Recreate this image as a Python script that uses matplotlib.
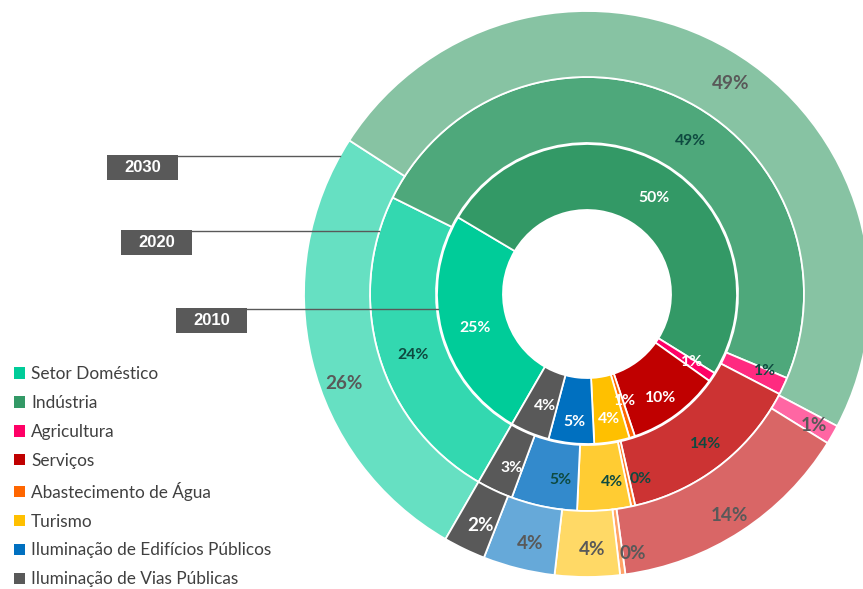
import matplotlib
matplotlib.use('Agg')
import numpy as np
import matplotlib.pyplot as plt
from matplotlib.patches import Rectangle, Patch

categories = ['Setor Doméstico', 'Indústria', 'Agricultura', 'Serviços',
              'Abastecimento de Água', 'Turismo',
              'Iluminação de Edifícios Públicos', 'Iluminação de Vias Públicas']
years = ['2010', '2020', '2030']
share_2010 = [25.2, 50.3, 1.0, 10.0, 0.6, 3.8, 4.9, 4.2]
share_2020 = [24.0, 49.0, 1.3, 13.8, 0.3, 4.0, 4.9, 2.7]
share_2030 = [25.8, 48.6, 1.1, 14.0, 0.3, 3.7, 4.1, 2.4]

colors_2010 = ['#00CC99', '#339966', '#FF0066', '#C00000', '#FF6600', '#FFC000', '#0070C0', '#595959']
colors_2020 = ['#33D8B0', '#4EA87B', '#FF2A80', '#CC3333', '#FF7D26', '#FFCC33', '#338ACC', '#595959']
colors_2030 = ['#66E0C2', '#87C3A3', '#FF66A3', '#D96666', '#FFA366', '#FFD966', '#66A9D9', '#595959']

# label nudges in pixels (dx right, dy down), mimicking the original label placement
nudge_2010 = [(1, 4), (6, 4), (8, 3), (4, 10), (3, -5), (2, 10), (0, 12), (3, 4)]
nudge_2020 = [(2, 8), (27, 14), (11, -1), (6, 4), (14, 5), (10, 5), (10, 6), (3, 7)]
nudge_2030 = [(0, 31), (17, 5), (10, 7), (6, 12), (14, 12), (5, 6), (4, 7), (2, 6)]

W, H = 863, 589
fig = plt.figure(figsize=(W / 100, H / 100), dpi=100)
ax = fig.add_axes([0, 0, 1, 1])

cx, cy = 587, 295
ring_w = 66
rings = [
    (share_2010, colors_2010, 150, ['white'] * 8, 11.3, nudge_2010),
    (share_2020, colors_2020, 217, ['#0E4A40'] * 7 + ['white'], 11.3, nudge_2020),
    (share_2030, colors_2030, 283, ['#595959'] * 7 + ['white'], 13.6, nudge_2030),
]

for vals, cols, r, tcols, fs, nudges in rings:
    wedges, texts, autotexts = ax.pie(
        vals, radius=r, center=(cx, cy), colors=cols, startangle=240,
        counterclock=False, autopct='%.0f%%', pctdistance=(r - ring_w / 2) / r,
        wedgeprops=dict(width=ring_w, edgecolor='white', linewidth=1.3),
        textprops=dict(fontfamily='Lato', fontweight='bold', fontsize=fs))
    for t, c, (dx, dy) in zip(autotexts, tcols, nudges):
        t.set_color(c)
        x, y = t.get_position()
        t.set_position((x + dx, y - dy))

ax.set_xlim(0, W)
ax.set_ylim(0, H)
ax.set_aspect('equal')
ax.axis('off')

# year tags with leader lines
tags = [('2030', 107, 155, 283), ('2020', 121, 230, 217), ('2010', 176, 308, 150)]
for label, x0, ytop, r in tags:
    bw, bh = 71, 25
    y_line = H - ytop - 1
    ax.add_patch(Rectangle((x0, H - ytop - bh), bw, bh, facecolor='#595959',
                           edgecolor='none', zorder=5))
    ax.text(x0 + bw / 2, H - ytop - bh / 2, label, color='white',
            fontfamily='Liberation Sans', fontweight='bold', fontsize=12,
            ha='center', va='center', zorder=6)
    x_end = cx - np.sqrt(r ** 2 - (y_line - cy) ** 2)
    ax.plot([x0 + bw, x_end], [y_line, y_line], color='#595959', lw=1.0, zorder=4)

handles = [Patch(facecolor=c, edgecolor='none') for c in colors_2010]
fig.legend(handles=handles, labels=categories, loc='upper left',
           bbox_to_anchor=(14 / W, 1 - 366 / H), frameon=False,
           handlelength=0.65, handleheight=0.65, handletextpad=0.35,
           labelspacing=0.75, borderpad=0, borderaxespad=0,
           prop=dict(family='Lato', size=12.4), labelcolor='#404040')

fig.savefig('out.png', dpi=100)
